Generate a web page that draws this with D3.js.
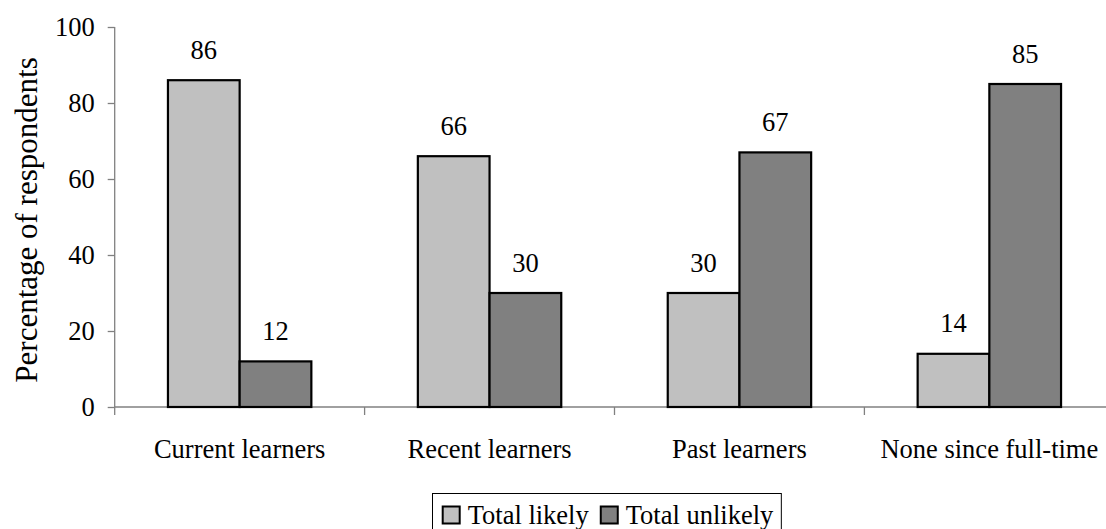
<!DOCTYPE html>
<html>
<head>
<meta charset="utf-8">
<script src="https://cdn.jsdelivr.net/npm/d3@7"></script>
<style>
  html, body { margin: 0; padding: 0; background: #fff; }
  svg { display: block; }
  text { font-family: "Liberation Serif", "Times New Roman", serif; fill: #000; }
</style>
</head>
<body>
<svg id="chart" width="1106" height="529"></svg>
<script>
// Learner groups and the share of respondents in each answer group
const categories = ["Current learners", "Recent learners", "Past learners", "None since full-time"];
const seriesNames = ["Total likely", "Total unlikely"];
const totalLikely = [86, 66, 30, 14];
const totalUnlikely = [12, 30, 67, 85];
const yTicks = [0, 20, 40, 60, 80, 100];
const yTitle = "Percentage of respondents";

const seriesValues = [totalLikely, totalUnlikely];
const colors = ["#c0c0c0", "#808080"];
const serif = '"Liberation Serif", "Times New Roman", serif';
const fontSize = 26.5;
const titleSize = 31;

const svg = d3.select("#chart");

// Plot area
const plotLeft = 114.7, plotRight = 1114.3, plotTop = 27, plotBottom = 407;

const y = d3.scaleLinear().domain([0, 100]).range([plotBottom, plotTop]);
const x0 = d3.scaleBand().domain(categories).range([plotLeft, plotRight]).padding(0);
const barW = 71.7;
const x1 = d3.scaleBand().domain(seriesNames)
  .range([(x0.bandwidth() - 2 * barW) / 2, (x0.bandwidth() + 2 * barW) / 2]).padding(0);

// Y axis
const yAxis = d3.axisLeft(y).tickValues(yTicks).tickSize(7).tickSizeOuter(0).tickPadding(13);
const gy = svg.append("g").attr("transform", `translate(${plotLeft},0)`).call(yAxis)
  .attr("font-family", serif);
gy.select(".domain").remove();
gy.selectAll(".tick line").attr("stroke", "#808080").attr("stroke-width", 1.3);
gy.selectAll(".tick text").attr("font-size", fontSize).attr("font-family", serif);
svg.append("line")
  .attr("x1", plotLeft).attr("x2", plotLeft)
  .attr("y1", y(100)).attr("y2", plotBottom + 8)
  .attr("stroke", "#808080").attr("stroke-width", 1.3);

// X axis line and group boundary ticks
svg.append("line")
  .attr("x1", plotLeft).attr("x2", plotRight)
  .attr("y1", plotBottom).attr("y2", plotBottom)
  .attr("stroke", "#808080").attr("stroke-width", 1.3);
svg.append("g").selectAll("line")
  .data(categories.slice(1))
  .join("line")
  .attr("x1", d => x0(d)).attr("x2", d => x0(d))
  .attr("y1", plotBottom).attr("y2", plotBottom + 8)
  .attr("stroke", "#808080").attr("stroke-width", 1.3);

// Bars
const groups = svg.append("g").selectAll("g")
  .data(categories)
  .join("g")
  .attr("transform", d => `translate(${x0(d)},0)`);

groups.selectAll("rect")
  .data((d, i) => seriesNames.map((s, j) => ({ s, v: seriesValues[j][i], j })))
  .join("rect")
  .attr("x", d => x1(d.s))
  .attr("y", d => y(d.v))
  .attr("width", x1.bandwidth())
  .attr("height", d => plotBottom - y(d.v))
  .attr("fill", d => colors[d.j])
  .attr("stroke", "#000")
  .attr("stroke-width", 2.2);

// Value labels
groups.selectAll("text.val")
  .data((d, i) => seriesNames.map((s, j) => ({ s, v: seriesValues[j][i] })))
  .join("text")
  .attr("class", "val")
  .attr("x", d => x1(d.s) + x1.bandwidth() / 2)
  .attr("y", d => y(d.v) - 21.5)
  .attr("text-anchor", "middle")
  .attr("font-family", serif)
  .attr("font-size", fontSize)
  .text(d => d.v);

// Category labels
svg.append("g").selectAll("text")
  .data(categories)
  .join("text")
  .attr("x", d => x0(d) + x0.bandwidth() / 2)
  .attr("y", 457.5)
  .attr("text-anchor", "middle")
  .attr("font-family", serif)
  .attr("font-size", fontSize)
  .text(d => d);

// Y axis title
svg.append("text")
  .attr("transform", `translate(37,220) rotate(-90)`)
  .attr("text-anchor", "middle")
  .attr("font-family", serif)
  .attr("font-size", titleSize)
  .text(yTitle);

// Legend
const legend = svg.append("g");
const legX = 442.7, legBase = 523.5, swatch = 17;
const legItems = legend.selectAll("g")
  .data(seriesNames)
  .join("g");
let cursor = legX;
legItems.each(function (d, i) {
  const g = d3.select(this);
  g.append("rect")
    .attr("x", cursor).attr("y", legBase - swatch)
    .attr("width", swatch).attr("height", swatch)
    .attr("fill", colors[i]).attr("stroke", "#000").attr("stroke-width", 2);
  const t = g.append("text")
    .attr("x", cursor + swatch + 8)
    .attr("y", legBase)
    .attr("font-family", serif)
    .attr("font-size", fontSize)
    .text(d);
  cursor = cursor + swatch + 8 + t.node().getComputedTextLength() + 12;
});
const legRight = cursor - 12 + 8;
legend.insert("rect", ":first-child")
  .attr("x", 432.5).attr("y", 493.5)
  .attr("width", legRight - 432.5).attr("height", 50)
  .attr("fill", "#fff").attr("stroke", "#000").attr("stroke-width", 1);
</script>
</body>
</html>
